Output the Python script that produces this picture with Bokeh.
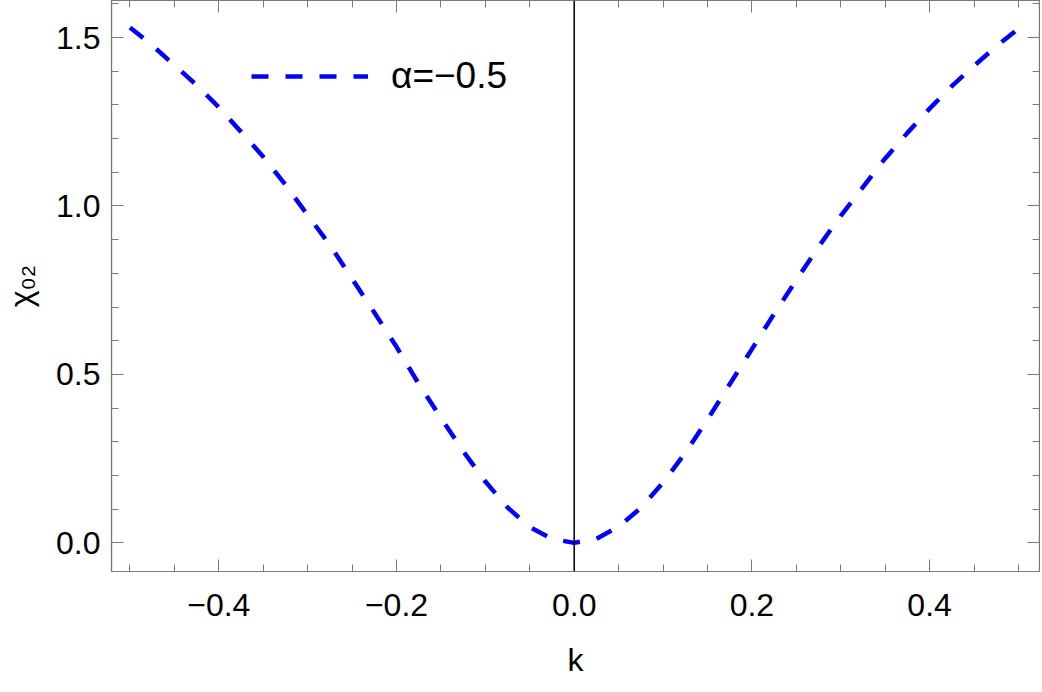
from bokeh.plotting import figure
from bokeh.models import (Range1d, LinearAxis, FixedTicker, CustomJSTickFormatter,
                          Span, Legend, LegendItem)
from bokeh.embed import file_html
from bokeh.resources import INLINE

# ---- data ----
k_values = [-0.5, -0.475, -0.45, -0.425, -0.4, -0.375, -0.35, -0.325, -0.3, -0.275,
            -0.25, -0.225, -0.2, -0.175, -0.15, -0.125, -0.1, -0.075, -0.05, -0.025,
            0.0, 0.025, 0.05, 0.075, 0.1, 0.125, 0.15, 0.175, 0.2, 0.225,
            0.25, 0.275, 0.3, 0.325, 0.35, 0.375, 0.4, 0.425, 0.45, 0.475, 0.5]
chi_values = [1.530, 1.477, 1.418, 1.359, 1.293, 1.220, 1.146, 1.063, 0.973, 0.884,
              0.784, 0.684, 0.582, 0.472, 0.371, 0.272, 0.182, 0.105, 0.047, 0.012,
              0.0, 0.012, 0.048, 0.104, 0.179, 0.267, 0.366, 0.471, 0.575, 0.680,
              0.780, 0.879, 0.971, 1.056, 1.141, 1.217, 1.289, 1.356, 1.416, 1.474, 1.526]
series_label = "α=−0.5"
x_major_ticks = [-0.4, -0.2, 0.0, 0.2, 0.4]
x_minor_ticks = [-0.5, -0.45, -0.35, -0.3, -0.25, -0.15, -0.1, -0.05,
                 0.05, 0.1, 0.15, 0.25, 0.3, 0.35, 0.45, 0.5]
y_major_ticks = [0.0, 0.5, 1.0, 1.5]
y_minor_ticks = [0.1, 0.2, 0.3, 0.4, 0.6, 0.7, 0.8, 0.9, 1.1, 1.2, 1.3, 1.4, 1.6]
x_axis_title = "k"
y_axis_title = "χ₀₂"
axis_origin = 0.0

FONT = "Liberation Sans"
FS = "32px"
FRAME = "#7a7a7a"

p = figure(width=1040, height=690,
           x_range=Range1d(-0.5208, 0.5237), y_range=Range1d(-0.085, 1.61),
           output_backend="svg", toolbar_location=None,
           min_border_left=109, min_border_right=1, min_border_top=0,
           min_border_bottom=119, x_axis_location="below", y_axis_location="left")
p.background_fill_color = "white"
p.border_fill_color = "white"
p.outline_line_color = FRAME
p.outline_line_width = 1.2
p.xgrid.visible = False
p.ygrid.visible = False

fmt = CustomJSTickFormatter(code="return (tick < -1e-9 ? '\u2212' : '') + Math.abs(tick).toFixed(1);")
blank = CustomJSTickFormatter(code="return '';")


def style_axis(ax, major, minor, labels=True):
    ax.ticker = FixedTicker(ticks=major, minor_ticks=minor)
    ax.major_tick_in = 12
    ax.major_tick_out = 0
    ax.minor_tick_in = 7
    ax.minor_tick_out = 0
    ax.major_tick_line_color = FRAME
    ax.minor_tick_line_color = FRAME
    ax.axis_line_color = FRAME
    ax.axis_line_width = 1.2
    ax.major_label_text_font = FONT
    ax.major_label_text_color = "black"
    ax.axis_label_text_font = FONT
    ax.axis_label_text_font_size = FS
    ax.axis_label_text_font_style = "normal"
    ax.axis_label_text_color = "black"
    if labels:
        ax.formatter = fmt
        ax.major_label_text_font_size = FS
    else:
        ax.formatter = blank
        ax.major_label_text_font_size = "0px"
        ax.major_label_standoff = -12


xa = p.xaxis[0]
style_axis(xa, x_major_ticks, x_minor_ticks)
xa.axis_label = x_axis_title
xa.major_label_standoff = 22
xa.axis_label_standoff = 23

ya = p.yaxis[0]
style_axis(ya, y_major_ticks, y_minor_ticks)
ya.axis_label = y_axis_title
ya.major_label_standoff = 11
ya.axis_label_standoff = 14

top = LinearAxis()
style_axis(top, x_major_ticks, x_minor_ticks, labels=False)
p.add_layout(top, "above")
right = LinearAxis()
style_axis(right, y_major_ticks, y_minor_ticks, labels=False)
p.add_layout(right, "right")

p.add_layout(Span(location=axis_origin, dimension="height", line_color="black", line_width=1.5))

r = p.line(k_values, chi_values, line_color="#0000ff", line_width=4.5, line_dash="17 17")

legend = Legend(items=[LegendItem(label=series_label, renderers=[r])],
                location=(140, 474), orientation="vertical")
legend.background_fill_alpha = 0
legend.border_line_alpha = 0
legend.padding = 0
legend.margin = 0
legend.spacing = 0
legend.glyph_width = 117
legend.glyph_height = 40
legend.label_height = 40
legend.label_standoff = 23
legend.label_text_font = FONT
legend.label_text_font_size = "37px"
legend.label_text_color = "black"
p.add_layout(legend, "center")

open("out.html", "w").write(file_html(p, INLINE))
